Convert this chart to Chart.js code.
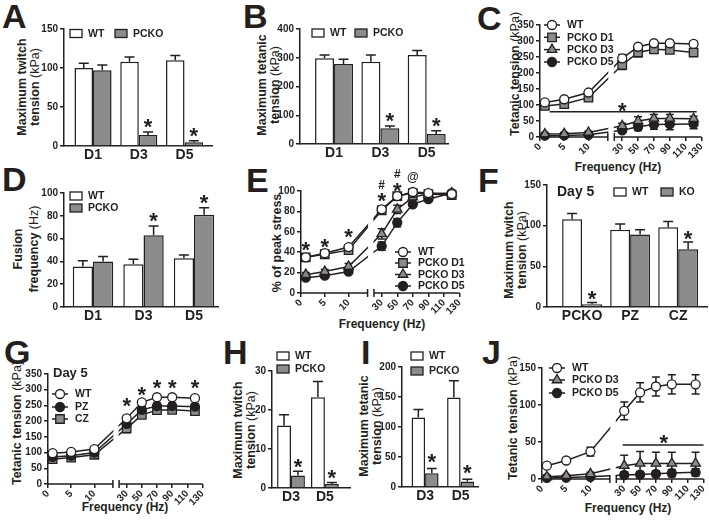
<!DOCTYPE html>
<html>
<head>
<meta charset="utf-8">
<script src="https://cdn.jsdelivr.net/npm/chart.js@4.4.1/dist/chart.umd.min.js"></script>
<style>
  body { margin: 0; background: #fff; width: 709px; height: 521px; position: relative; overflow: hidden;
         font-family: "Liberation Sans", Arial, sans-serif; color: #231f20; }
  canvas { position: absolute; }
  .lt { position: absolute; font-weight: bold; font-size: 34px; line-height: 34px; }
  .yt { position: absolute; font-weight: bold; font-size: 12.5px; line-height: 13px; text-align: center;
        white-space: nowrap; transform: translate(-50%, -50%) rotate(-90deg); }
  .yt span { font-weight: normal; }
  .xt { position: absolute; font-weight: bold; font-size: 12px; white-space: nowrap; transform: translate(-50%, -50%); }
</style>
</head>
<body>
<div class="lt" style="left:2px;top:-1.5px">A</div>
<div class="lt" style="left:243px;top:-1.5px">B</div>
<div class="lt" style="left:477px;top:0.5px">C</div>
<div class="lt" style="left:2px;top:162px">D</div>
<div class="lt" style="left:246px;top:163px">E</div>
<div class="lt" style="left:478px;top:163px">F</div>
<div class="lt" style="left:4px;top:335px">G</div>
<div class="lt" style="left:223px;top:335px">H</div>
<div class="lt" style="left:361px;top:335px">I</div>
<div class="lt" style="left:482px;top:335px">J</div>

<div class="yt" style="left:28.5px;top:87px">Maximum twitch<br>tension <span>(kPa)</span></div>
<div class="yt" style="left:268.5px;top:85px">Maximum tetanic<br>tension <span>(kPa)</span></div>
<div class="yt" style="left:515px;top:74px">Tetanic tension <span>(kPa)</span></div>
<div class="yt" style="left:26px;top:249px;line-height:15.5px">Fusion<br>frequency <span>(Hz)</span></div>
<div class="yt" style="left:277px;top:243px">% of peak stress</div>
<div class="yt" style="left:515.5px;top:250px">Maximum twitch<br>tension <span>(kPa)</span></div>
<div class="yt" style="left:17px;top:423px">Tetanic tension <span>(kPa)</span></div>
<div class="yt" style="left:244.5px;top:430px">Maximum twitch<br>tension <span>(kPa)</span></div>
<div class="yt" style="left:370.5px;top:426px">Maximum tetanic<br>tension <span>(kPa)</span></div>
<div class="yt" style="left:513px;top:418px">Tetanic tension <span>(kPa)</span></div>

<div class="xt" style="left:618px;top:167px">Frequency (Hz)</div>
<div class="xt" style="left:382px;top:324px">Frequency (Hz)</div>
<div class="xt" style="left:125px;top:507px">Frequency (Hz)</div>
<div class="xt" style="left:628px;top:508px">Frequency (Hz)</div>

<script>
// ---- data ----
const freqs = [1, 5, 10, 30, 50, 70, 90, 120];
const freqTicks = [0, 5, 10, 30, 50, 70, 90, 110, 130];
const daysAll = ['D1', 'D3', 'D5'];
const daysLate = ['D3', 'D5'];
const zones = ['PCKO', 'PZ', 'CZ'];

// A: maximum twitch tension
const twitchWT = [100, 108, 110], twitchWTErr = [6, 6, 6];
const twitchKO = [97, 14, 4.7], twitchKOErr = [7, 4, 2];
// B: maximum tetanic tension
const tetanicWT = [298, 286, 310], tetanicWTErr = [12, 24, 15];
const tetanicKO = [278, 55, 35], tetanicKOErr = [17, 8, 11];
// C: tetanic tension vs frequency
const curveWT = [108, 118, 139, 246, 282, 293, 293, 291], curveWTErr = [6, 5, 7, 12, 8, 6, 7, 8];
const curveD1 = [97, 103, 123, 225, 264, 274, 272, 264], curveD1Err = [5, 5, 6, 14, 13, 10, 10, 10];
const curveD3 = [9, 10, 14, 35, 50, 58, 58, 57], curveD3Err = [3, 3, 4, 8, 13, 12, 12, 8];
const curveD5 = [4, 5, 7, 21, 32, 39, 40, 41], curveD5Err = [2, 2, 2, 6, 12, 15, 17, 15];
// D: fusion frequency
const fusionWT = [35.5, 37.5, 42.7], fusionWTErr = [5, 4.3, 3];
const fusionKO = [40, 63, 81], fusionKOErr = [4.2, 8, 6];
// E: % of peak stress
const peakWT = [35, 39, 45, 82, 95, 99, 98, 97], peakWTErr = [2, 2, 2, 3, 2, 1, 1, 1];
const peakD1 = [35, 38, 42, 81, 95, 98, 97, 96], peakD1Err = [2, 2, 2, 3, 2, 1, 1, 1];
const peakD3 = [18, 21, 26, 58, 82, 94, 97, 98], peakD3Err = [2, 2, 3, 5, 4, 2, 1, 1];
const peakD5 = [15, 17, 21, 46, 69, 87, 92, 98], peakD5Err = [2, 2, 2, 4, 4, 2, 2, 1];
// F: day 5 twitch by zone
const zoneWT = [108, 95, 98], zoneWTErr = [7, 7, 7];
const zoneKO = [3.5, 89, 71], zoneKOErr = [2, 6, 9];
// G: day 5 tetanic tension by zone
const dayWT = [98, 102, 111, 209, 260, 276, 276, 273], dayWTErr = [5, 5, 6, 8, 8, 7, 7, 7];
const dayPZ = [86, 90, 100, 191, 236, 248, 248, 246], dayPZErr = [6, 6, 7, 10, 10, 10, 10, 9];
const dayCZ = [79, 84, 93, 177, 220, 235, 236, 232], dayCZErr = [6, 6, 6, 14, 10, 9, 9, 9];
// H: maximum twitch (second cohort)
const twitch2WT = [16, 23.3], twitch2WTErr = [2.8, 4];
const twitch2KO = [3.2, 1.0], twitch2KOErr = [1.1, 0.4];
// I: maximum tetanic (second cohort)
const tetanic2WT = [116, 149], tetanic2WTErr = [13, 28];
const tetanic2KO = [23, 9], tetanic2KOErr = [8, 4];
// J: tetanic tension vs frequency (second cohort)
const curve2WT = [18, 25, 37, 92, 117, 125, 128, 128], curve2WTErr = [2, 2, 6, 12, 13, 13, 13, 13];
const curve2D3 = [3, 4.5, 7, 18, 21, 21, 21, 21], curve2D3Err = [1, 1, 2, 14, 16, 15, 15, 15];
const curve2D5 = [1.5, 2, 3, 5.4, 6, 7, 8, 9], curve2D5Err = [1, 1, 1, 4, 4, 4, 5, 5];

// ---- style ----
const INK = '#231f20', GREY = '#8c8c8c';
const FONT = '"Liberation Sans", Arial, sans-serif';

// broken frequency axis: 0-14 Hz on the left, 20-130 Hz on the right
const BRK = { lo: 14, hi: 20, top: 130, left: 0.42, gap: 0.04 };
function fpos(f) {
  if (f <= BRK.lo) return f / BRK.lo * BRK.left;
  return BRK.left + BRK.gap + (f - BRK.hi) / (BRK.top - BRK.hi) * (1 - BRK.left - BRK.gap);
}

function glyph(ctx, t, x, yc, size) {
  ctx.font = 'bold ' + size + 'px ' + FONT;
  ctx.fillStyle = INK;
  ctx.textAlign = 'center';
  ctx.textBaseline = 'alphabetic';
  ctx.fillText(t, x, yc + (t === '*' ? 0.58 : 0.36) * size);
}

function marker(ctx, style, x, y, r, fill) {
  ctx.beginPath();
  if (style === 'circle') {
    ctx.arc(x, y, r, 0, Math.PI * 2);
  } else if (style === 'rect') {
    const s = r * Math.SQRT1_2;
    ctx.rect(x - s, y - s, 2 * s, 2 * s);
  } else {
    for (let k = 0; k < 3; k++) {
      const a = k * 2 * Math.PI / 3;
      ctx.lineTo(x + Math.sin(a) * r, y - Math.cos(a) * r);
    }
    ctx.closePath();
  }
  ctx.fillStyle = fill; ctx.fill();
  ctx.lineWidth = 1.3; ctx.strokeStyle = INK; ctx.stroke();
}

const errorBars = {
  id: 'errorBars',
  beforeDatasetsDraw(chart) {
    const { ctx, scales: { y } } = chart;
    const isBar = chart.config.type === 'bar';
    ctx.save();
    ctx.strokeStyle = INK; ctx.lineWidth = 1.5;
    chart.data.datasets.forEach((ds, k) => {
      if (!ds.err) return;
      chart.getDatasetMeta(k).data.forEach((el, i) => {
        const v = ds.data[i].y, e = ds.err[i];
        const top = y.getPixelForValue(v + e);
        const bot = isBar ? el.y : y.getPixelForValue(v - e);
        const cap = isBar ? 5 : 4;
        ctx.beginPath();
        ctx.moveTo(el.x, top); ctx.lineTo(el.x, bot);
        ctx.moveTo(el.x - cap, top); ctx.lineTo(el.x + cap, top);
        if (!isBar) { ctx.moveTo(el.x - cap, bot); ctx.lineTo(el.x + cap, bot); }
        ctx.stroke();
      });
    });
    ctx.restore();
  }
};

const barStars = {
  id: 'barStars',
  afterDatasetsDraw(chart, args, o) {
    if (!o.list) return;
    const { ctx, scales: { y } } = chart;
    o.list.forEach(([k, i]) => {
      const ds = chart.data.datasets[k], el = chart.getDatasetMeta(k).data[i];
      glyph(ctx, '*', el.x, y.getPixelForValue(ds.data[i].y + ds.err[i]) - (o.off || 11), 22);
    });
  }
};

const brokenAxis = {
  id: 'brokenAxis',
  afterDatasetsDraw(chart, args, o) {
    if (o.from == null) return;
    const { ctx, chartArea: a, scales: { x } } = chart;
    const p1 = x.getPixelForValue(o.from), p2 = x.getPixelForValue(o.to);
    ctx.save();
    ctx.fillStyle = '#fff';
    ctx.fillRect(p1 + 0.5, a.top, p2 - p1 - 1, a.bottom - a.top - 1);
    ctx.strokeStyle = INK; ctx.lineWidth = 1.5;
    ctx.beginPath();
    ctx.moveTo(a.left, a.bottom); ctx.lineTo(p1, a.bottom);
    ctx.moveTo(p2, a.bottom); ctx.lineTo(a.right, a.bottom);
    ctx.moveTo(p1, a.bottom - 4); ctx.lineTo(p1, a.bottom + 4);
    ctx.moveTo(p2, a.bottom - 4); ctx.lineTo(p2, a.bottom + 4);
    ctx.stroke();
    ctx.restore();
  }
};

const marks = {
  id: 'marks',
  afterDraw(chart, args, o) {
    const { ctx, scales: { x, y } } = chart;
    ctx.save();
    (o.lines || []).forEach(l => {
      ctx.strokeStyle = INK; ctx.lineWidth = 1.5;
      ctx.beginPath();
      ctx.moveTo(x.getPixelForValue(l.x1), y.getPixelForValue(l.y));
      ctx.lineTo(x.getPixelForValue(l.x2), y.getPixelForValue(l.y));
      ctx.stroke();
    });
    (o.items || []).forEach(m => glyph(ctx, m.t, x.getPixelForValue(m.x), y.getPixelForValue(m.y), m.size || 22));
    ctx.restore();
  }
};

const keyLegend = {
  id: 'keyLegend',
  afterDraw(chart, args, o) {
    if (!o.items) return;
    const { ctx, chartArea: a } = chart;
    ctx.save();
    o.items.forEach(it => {
      const x = a.left + it.dx, y = a.top + it.dy;
      let tx = x;
      if (it.kind === 'box') {
        ctx.fillStyle = it.fill; ctx.fillRect(x, y - 4, 12, 8);
        ctx.strokeStyle = INK; ctx.lineWidth = 1.3; ctx.strokeRect(x, y - 4, 12, 8);
        tx = x + 18;
      } else if (it.kind === 'mark') {
        ctx.strokeStyle = INK; ctx.lineWidth = 1.5;
        ctx.beginPath(); ctx.moveTo(x - 8, y); ctx.lineTo(x + 8, y); ctx.stroke();
        marker(ctx, it.style, x, y, it.r, it.fill);
        tx = x + 15;
      }
      ctx.fillStyle = INK;
      ctx.font = 'bold ' + (it.size || 10.5) + 'px ' + FONT;
      ctx.textAlign = 'left'; ctx.textBaseline = 'middle';
      ctx.fillText(it.label, tx, y + 0.5);
    });
    ctx.restore();
  }
};

Chart.register(errorBars, barStars, brokenAxis, marks, keyLegend);

// ---- layout helpers ----
function mount(L, T, W, H) {
  const c = document.createElement('canvas');
  c.width = Math.round(W); c.height = Math.round(H);
  c.style.left = L + 'px'; c.style.top = T + 'px';
  c.style.width = Math.round(W) + 'px'; c.style.height = Math.round(H) + 'px';
  document.body.appendChild(c);
  return c;
}

// build the chart, then shift / resize its canvas until the plot area sits on box.l..box.r, box.t..box.b
function place(box, makeConfig) {
  let L = box.l - 30, T = box.t - box.padT;
  let W = box.r - box.l + 30 + (box.padR || 6), H = box.b - box.t + box.padT + box.xh;
  for (let k = 0; k < 4; k++) {
    const c = mount(L, T, W, H);
    const chart = new Chart(c, makeConfig());
    const a = chart.chartArea;
    const nL = box.l - a.left, nT = box.t - a.top;
    const nW = box.r - nL + (c.width - a.right), nH = box.b - nT + (c.height - a.bottom);
    const done = Math.abs(nL - L) < 0.5 && Math.abs(nT - T) < 0.5 && Math.abs(nW - W) < 0.5 && Math.abs(nH - H) < 0.5;
    if (done || k === 3) return chart;
    chart.destroy(); c.remove();
    L = nL; T = nT; W = nW; H = nH;
  }
}

function yScale(max, step) {
  return {
    min: 0, max: max,
    ticks: { stepSize: step, color: INK, font: { family: FONT, size: 10, weight: 'bold' }, padding: 2 },
    grid: { drawOnChartArea: false, drawTicks: true, tickLength: 4, color: INK, lineWidth: 1.5 },
    border: { color: INK, width: 1.5 },
    afterFit(s) { s.width = 30; }
  };
}

function barX(box, labels) {
  return {
    type: 'linear', min: box.xMin, max: box.xMax, offset: false,
    afterBuildTicks(s) { s.ticks = labels.map((_, i) => ({ value: i })); },
    ticks: { autoSkip: false, maxRotation: 0, color: INK, font: { family: FONT, size: 14, weight: 'bold' },
             padding: 1, callback: (v, i) => labels[i] },
    grid: { display: false, drawTicks: false, offset: false },
    border: { color: INK, width: 1.5 },
    afterFit(s) { s.height = box.xh; }
  };
}

function lineX(box) {
  return {
    type: 'linear', min: 0, max: 1,
    afterBuildTicks(s) { s.ticks = freqTicks.map(f => ({ value: fpos(f) })); },
    ticks: { autoSkip: false, minRotation: 45, maxRotation: 45, color: INK,
             font: { family: FONT, size: 10, weight: 'bold' }, padding: 0, callback: (v, i) => freqTicks[i] },
    grid: { drawOnChartArea: false, drawTicks: true, tickLength: 4, color: INK, lineWidth: 1.5 },
    border: { display: false },
    afterFit(s) { s.height = box.xh; }
  };
}

function options(box, x, y, plugins) {
  return {
    responsive: false, maintainAspectRatio: false, animation: false, devicePixelRatio: 1,
    layout: { padding: { top: box.padT, right: box.padR || 6, left: 0, bottom: 0 } },
    scales: { x: x, y: y },
    plugins: Object.assign({ legend: { display: false }, tooltip: { enabled: false } }, plugins)
  };
}

function barChart(box, labels, sets, yMax, yStep, plugins) {
  place(box, () => ({
    type: 'bar',
    data: {
      datasets: sets.map(s => ({
        data: s.vals.map((v, i) => ({ x: i, y: v })), err: s.err,
        backgroundColor: s.fill, borderColor: INK, borderWidth: 1.5,
        categoryPercentage: box.cp, barPercentage: 1
      }))
    },
    options: options(box, barX(box, labels), yScale(yMax, yStep), plugins)
  }));
}

function series(vals, err, style, fill) {
  const r = style === 'rect' ? 6 : style === 'triangle' ? 5.5 : 4.5;
  return {
    data: vals.map((v, i) => ({ x: fpos(freqs[i]), y: v })), err: err,
    borderColor: INK, borderWidth: 1.5, tension: 0, clip: false,
    pointStyle: style, pointRadius: r, pointBackgroundColor: fill,
    pointBorderColor: INK, pointBorderWidth: 1.3
  };
}

function lineChart(box, makeSets, yMax, yStep, plugins) {
  plugins.brokenAxis = { from: fpos(BRK.lo), to: fpos(BRK.hi) };
  place(box, () => ({
    type: 'line',
    data: { datasets: makeSets() },
    options: options(box, lineX(box), yScale(yMax, yStep), plugins)
  }));
}

const box = k => ({ kind: 'box', fill: k.fill, label: k.label, dx: k.dx, dy: k.dy });
const mk = (style, fill, label, dx, dy) =>
  ({ kind: 'mark', style, fill, label, dx, dy, r: style === 'rect' ? 6 : style === 'triangle' ? 5.5 : 4.5 });

// ---- A ----
barChart({ l: 64, t: 29, r: 212, b: 146, padT: 14, xh: 24, xMin: -0.634, xMax: 2.6, cp: 0.81 }, daysAll,
  [{ vals: twitchWT, err: twitchWTErr, fill: '#fff' }, { vals: twitchKO, err: twitchKOErr, fill: GREY }], 150, 50,
  { barStars: { list: [[1, 1], [1, 2]] },
    keyLegend: { items: [box({ fill: '#fff', label: 'WT', dx: 6, dy: 4.5 }), box({ fill: GREY, label: 'PCKO', dx: 51, dy: 4.5 })] } });

// ---- B ----
barChart({ l: 300, t: 29, r: 448, b: 144, padT: 14, xh: 24, xMin: -0.735, xMax: 2.46, cp: 0.82 }, daysAll,
  [{ vals: tetanicWT, err: tetanicWTErr, fill: '#fff' }, { vals: tetanicKO, err: tetanicKOErr, fill: GREY }], 400, 100,
  { barStars: { list: [[1, 1], [1, 2]] },
    keyLegend: { items: [box({ fill: '#fff', label: 'WT', dx: 12, dy: 4 }), box({ fill: GREY, label: 'PCKO', dx: 55, dy: 4 })] } });

// ---- C ----
lineChart({ l: 540, t: 25, r: 702, b: 137, padT: 10, xh: 26, padR: 8 },
  () => [series(curveWT, curveWTErr, 'circle', '#fff'), series(curveD1, curveD1Err, 'rect', GREY),
         series(curveD3, curveD3Err, 'triangle', GREY), series(curveD5, curveD5Err, 'circle', INK)], 350, 50,
  { marks: { lines: [{ x1: fpos(2), x2: fpos(124), y: 79 }], items: [{ x: fpos(30), y: 100, t: '*' }] },
    keyLegend: { items: [mk('circle', '#fff', 'WT', 12, 0), mk('rect', GREY, 'PCKO D1', 12, 12.3),
                         mk('triangle', GREY, 'PCKO D3', 12, 24.6), mk('circle', INK, 'PCKO D5', 12, 37)] } });

// ---- D ----
barChart({ l: 64, t: 193, r: 218, b: 307, padT: 14, xh: 24, xMin: -0.574, xMax: 2.475, cp: 0.8 }, daysAll,
  [{ vals: fusionWT, err: fusionWTErr, fill: '#fff' }, { vals: fusionKO, err: fusionKOErr, fill: GREY }], 100, 20,
  { barStars: { list: [[1, 1], [1, 2]] },
    keyLegend: { items: [box({ fill: '#fff', label: 'WT', dx: 6, dy: 3 }), box({ fill: GREY, label: 'PCKO', dx: 6, dy: 15 })] } });

// ---- E ----
lineChart({ l: 301, t: 191, r: 460, b: 293, padT: 28, xh: 26, padR: 8 },
  () => [series(peakWT, peakWTErr, 'circle', '#fff'), series(peakD1, peakD1Err, 'rect', GREY),
         series(peakD3, peakD3Err, 'triangle', GREY), series(peakD5, peakD5Err, 'circle', INK)], 100, 20,
  { marks: { items: [
      { x: fpos(1), y: 48, t: '*' }, { x: fpos(5), y: 51, t: '*' }, { x: fpos(10), y: 61, t: '*' },
      { x: fpos(30), y: 106, t: '#', size: 12 }, { x: fpos(30), y: 96, t: '*' },
      { x: fpos(50), y: 117, t: '#', size: 12 }, { x: fpos(50), y: 106, t: '*' },
      { x: fpos(70), y: 114, t: '@', size: 12 }] },
    keyLegend: { items: [mk('circle', '#fff', 'WT', 102, 61), mk('rect', GREY, 'PCKO D1', 102, 72),
                         mk('triangle', GREY, 'PCKO D3', 102, 83.5), mk('circle', INK, 'PCKO D5', 102, 95)] } });

// ---- F ----
barChart({ l: 547, t: 185, r: 707, b: 307, padT: 14, xh: 24, xMin: -0.73, xMax: 2.6, cp: 0.83, padR: 4 }, zones,
  [{ vals: zoneWT, err: zoneWTErr, fill: '#fff' }, { vals: zoneKO, err: zoneKOErr, fill: GREY }], 150, 50,
  { barStars: { list: [[1, 0], [1, 2]], off: 9 },
    keyLegend: { items: [{ kind: 'text', label: 'Day 5', dx: 10, dy: 7, size: 14 },
                         box({ fill: '#fff', label: 'WT', dx: 67, dy: 7 }), box({ fill: GREY, label: 'KO', dx: 114, dy: 7 })] } });

// ---- G ----
lineChart({ l: 48, t: 374, r: 203, b: 484, padT: 14, xh: 26, padR: 8 },
  () => [series(dayWT, dayWTErr, 'circle', '#fff'), series(dayPZ, dayPZErr, 'circle', INK),
         series(dayCZ, dayCZErr, 'rect', GREY)], 350, 50,
  { marks: { items: [{ x: fpos(30), y: 268, t: '*' }, { x: fpos(50), y: 300, t: '*' }, { x: fpos(70), y: 324, t: '*' },
                     { x: fpos(90), y: 324, t: '*' }, { x: fpos(120), y: 324, t: '*' }] },
    keyLegend: { items: [{ kind: 'text', label: 'Day 5', dx: 5, dy: -1, size: 13 },
                         mk('circle', '#fff', 'WT', 12, 20), mk('circle', INK, 'PZ', 12, 33), mk('rect', GREY, 'CZ', 12, 45)] } });

// ---- H ----
barChart({ l: 272, t: 371, r: 350, b: 488, padT: 22, xh: 24, xMin: -0.56, xMax: 1.74, cp: 0.82 }, daysLate,
  [{ vals: twitch2WT, err: twitch2WTErr, fill: '#fff' }, { vals: twitch2KO, err: twitch2KOErr, fill: GREY }], 30, 10,
  { barStars: { list: [[1, 0], [1, 1]], off: 10 },
    keyLegend: { items: [box({ fill: '#fff', label: 'WT', dx: 5, dy: -15 }), box({ fill: GREY, label: 'PCKO', dx: 5, dy: -2 })] } });

// ---- I ----
barChart({ l: 402, t: 367, r: 478, b: 487, padT: 18, xh: 24, xMin: -0.65, xMax: 1.49, cp: 0.76 }, daysLate,
  [{ vals: tetanic2WT, err: tetanic2WTErr, fill: '#fff' }, { vals: tetanic2KO, err: tetanic2KOErr, fill: GREY }], 200, 50,
  { barStars: { list: [[1, 0], [1, 1]], off: 12 },
    keyLegend: { items: [box({ fill: '#fff', label: 'WT', dx: 9, dy: -11 }), box({ fill: GREY, label: 'PCKO', dx: 9, dy: 4 })] } });

// ---- J ----
lineChart({ l: 542, t: 368, r: 704, b: 479, padT: 10, xh: 26, padR: 6 },
  () => [series(curve2WT, curve2WTErr, 'circle', '#fff'), series(curve2D3, curve2D3Err, 'triangle', GREY),
         series(curve2D5, curve2D5Err, 'circle', INK)], 150, 50,
  { marks: { lines: [{ x1: fpos(28), x2: fpos(130), y: 46 }], items: [{ x: fpos(80), y: 57, t: '*' }] },
    keyLegend: { items: [mk('circle', '#fff', 'WT', 15, 0), mk('triangle', GREY, 'PCKO D3', 15, 12),
                         mk('circle', INK, 'PCKO D5', 15, 25)] } });
</script>
</body>
</html>
